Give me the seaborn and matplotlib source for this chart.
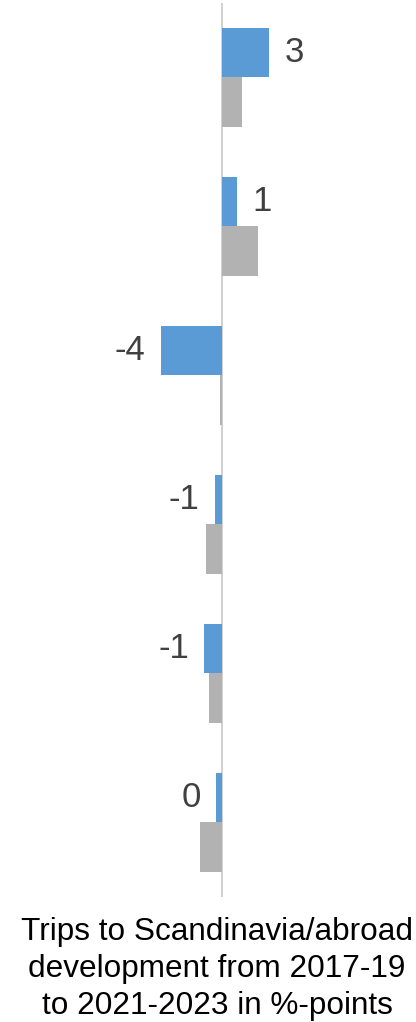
import matplotlib
matplotlib.use("Agg")
import matplotlib.pyplot as plt
import seaborn as sns
import pandas as pd

# Change in share of trips, percentage points, per group
groups = ["Group 1", "Group 2", "Group 3", "Group 4", "Group 5", "Group 6"]
scandinavia = [3.1, 1.0, -4.1, -0.53, -1.2, -0.43]
abroad = [1.3, 2.4, -0.15, -1.1, -0.87, -1.5]
series_names = ["Scandinavia", "Abroad"]
series_colors = ["#5B9BD5", "#B2B2B2"]
title_lines = [
    "Trips to Scandinavia/abroad",
    "development from 2017-19",
    "to 2021-2023 in %-points",
]

df = pd.DataFrame({
    "group": groups * 2,
    "series": [series_names[0]] * len(groups) + [series_names[1]] * len(groups),
    "value": scandinavia + abroad,
})

sns.set_theme(style="white")
plt.rcParams["font.family"] = ["Liberation Sans", "DejaVu Sans"]

W, H = 416, 1022
fig = plt.figure(figsize=(W / 100, H / 100), dpi=100)
ax = fig.add_axes([0, (H - 897) / H, 1, 894 / H])

sns.barplot(
    data=df, y="group", x="value", hue="series", orient="h",
    order=groups, hue_order=series_names, palette=series_colors,
    saturation=1, width=0.664, linewidth=0, legend=False, ax=ax, zorder=3,
)

px_per_unit = 15.0
zero_px = 222.5
ax.set_xlim(-zero_px / px_per_unit, (W - zero_px) / px_per_unit)
ax.axvline(0, color="#D0D0D0", linewidth=1.4, zorder=2)

# Value labels on the first series, rounded to whole points
cont = ax.containers[0]
labels = [f"{int(round(v))}" for v in scandinavia]
ax.bar_label(cont, labels=labels, padding=11, fontsize=25, color="#404040")

ax.set_xlabel("")
ax.set_ylabel("")
ax.set_xticks([])
ax.set_yticks([])
for s in ax.spines.values():
    s.set_visible(False)
ax.set_facecolor("none")

baselines = [940, 977, 1014]
for line, yb in zip(title_lines, baselines):
    fig.text(217 / W, (H - yb) / H, line, ha="center", va="baseline",
             fontsize=22.7, color="#000000")

fig.savefig("out.png", dpi=100, facecolor="white")
